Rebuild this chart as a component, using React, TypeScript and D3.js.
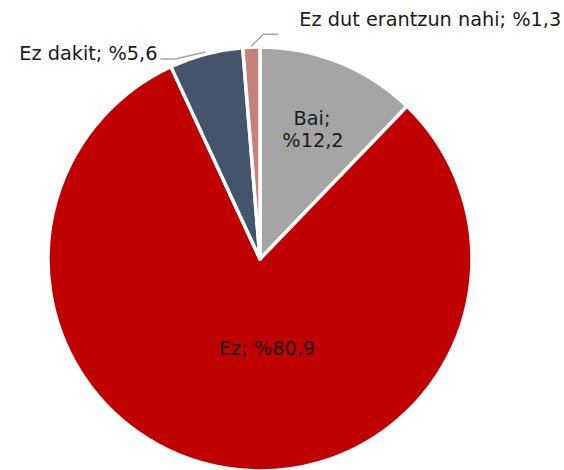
import React from "react";
import * as d3 from "d3";

const categories = ["Bai", "Ez", "Ez dakit", "Ez dut erantzun nahi"];
const values = [12.2, 80.9, 5.6, 1.3];
const valueLabels = ["%12,2", "%80,9", "%5,6", "%1,3"];
const colors = ["#A5A5A5", "#C00000", "#44546A", "#C4837A"];

const W = 564;
const H = 470;
const cx = 260;
const cy = 259;
const R = 212;

export default function App() {
  const pie = d3.pie<number>().sort(null).value((d) => d)(values);
  const arc = d3.arc<d3.PieArcDatum<number>>().innerRadius(0).outerRadius(R);
  const font = "'DejaVu Sans', Verdana, sans-serif";
  const fs = 19.3;

  const polar = (a: number, r: number) => [Math.sin(a) * r, -Math.cos(a) * r];
  const mid = (i: number) => (pie[i].startAngle + pie[i].endAngle) / 2;

  const dakitEdge = polar(mid(2), R + 2);
  const ezdutEdge = polar(mid(3), R + 1);

  return (
    <svg width={W} height={H} style={{ position: "absolute", left: 0, top: 0 }}>
      <g transform={`translate(${cx},${cy})`}>
        {pie.map((p, i) => (
          <path key={i} d={arc(p) || ""} fill={colors[i]} stroke="#fff" strokeWidth={3.5} strokeLinejoin="round" />
        ))}
        {/* Bai */}
        <text x={52} y={-134} textAnchor="middle" fontFamily={font} fontSize={fs} fill="#1a1a1a">
          {categories[0] + ";"}
        </text>
        <text x={53} y={-112} textAnchor="middle" fontFamily={font} fontSize={fs} fill="#1a1a1a">
          {valueLabels[0]}
        </text>
        {/* Ez */}
        <text x={7} y={96} textAnchor="middle" fontFamily={font} fontSize={fs} fill="#1a1a1a">
          {categories[1] + "; " + valueLabels[1]}
        </text>
        {/* Ez dakit leader */}
        <polyline
          points={`${dakitEdge[0]},${dakitEdge[1]} ${dakitEdge[0] - 30},${dakitEdge[1] + 7} ${dakitEdge[0] - 45},${dakitEdge[1] + 7}`}
          fill="none"
          stroke="#A5A5A5"
          strokeWidth={1.5}
        />
        <text x={dakitEdge[0] - 48} y={dakitEdge[1] + 8} textAnchor="end" fontFamily={font} fontSize={fs} fill="#1a1a1a">
          {categories[2] + "; " + valueLabels[2]}
        </text>
        {/* Ez dut erantzun nahi leader */}
        <polyline
          points={`${ezdutEdge[0]},${ezdutEdge[1]} ${ezdutEdge[0] + 12},${ezdutEdge[1] - 12} ${ezdutEdge[0] + 27},${ezdutEdge[1] - 12}`}
          fill="none"
          stroke="#A5A5A5"
          strokeWidth={1.5}
        />
        <text x={ezdutEdge[0] + 48} y={ezdutEdge[1] - 20} textAnchor="start" fontFamily={font} fontSize={fs} fill="#1a1a1a">
          {categories[3] + "; " + valueLabels[3]}
        </text>
      </g>
    </svg>
  );
}
